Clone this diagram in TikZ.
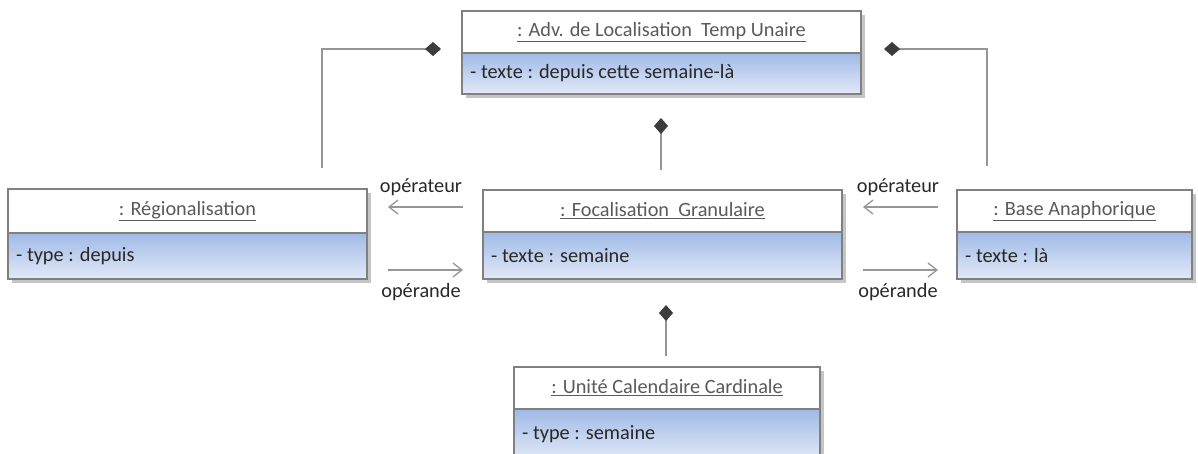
\documentclass[tikz,border=0pt]{standalone}
\usepackage{fontspec}
\setmainfont{Carlito}
\usetikzlibrary{arrows.meta,fit}
\definecolor{bordc}{RGB}{128,128,128}
\definecolor{linec}{RGB}{150,150,150}
\definecolor{diac}{RGB}{60,60,60}
\definecolor{titc}{RGB}{90,90,90}
\definecolor{txtc}{RGB}{40,40,40}
\definecolor{gtop}{RGB}{160,186,230}
\definecolor{gbot}{RGB}{226,233,248}
\definecolor{shadc}{RGB}{150,150,150}
\tikzset{
  objbox/.style={draw=bordc, line width=1.2pt, inner sep=0pt},
  titletext/.style={text=titc, font=\fontsize{20.3}{24}\selectfont, inner sep=0pt},
  attrtext/.style={text=txtc, font=\fontsize{20.3}{24}\selectfont, anchor=west, inner sep=0pt},
  role/.style={text=txtc, font=\fontsize{20.3}{24}\selectfont, inner sep=0pt},
  comp/.style={draw=linec, line width=1.3pt, -{Diamond[length=16pt,width=14pt,fill=diac,color=diac]}},
  navarrow/.style={draw=linec, line width=1.3pt, -{Straight Barb[length=9pt,width=14pt]}},
}
\newcommand\umlobj[8]{%
  \fill[shadc,opacity=0.55] (#2+4,#3+4) rectangle (#4+4,#6+4);
  \fill[white] (#2,#3) rectangle (#4,#5);
  \shade[top color=gtop,bottom color=gbot] (#2,#5) rectangle (#4,#6);
  \draw[bordc,line width=1.2pt] (#2,#5) -- (#4,#5);
  \node[objbox, fit={(#2,#3) (#4,#6)}] (#1) {};
  \node[titletext] (#1-t) at ({(#2+#4)/2},{(#3+#5)/2}) {\underline{#7}};
  \node[attrtext] (#1-a) at (#2+8,{(#5+#6)/2}) {#8};
}
\begin{document}
\begin{tikzpicture}[x=1pt,y=-1pt]
\useasboundingbox (0,0) rectangle (1198,453);
\umlobj{adv}{462}{11}{861}{53}{94}{: Adv. de Localisation\ \ Temp Unaire}{- texte : depuis cette semaine-là}
\umlobj{reg}{8}{189}{367}{233}{279}{: Régionalisation}{- type : depuis}
\umlobj{foc}{483}{190}{842}{232}{279}{: Focalisation\ \ Granulaire}{- texte : semaine}
\umlobj{base}{957}{190}{1192}{232}{279}{: Base Anaphorique}{- texte : là}
\umlobj{unit}{514}{367}{820}{409}{460}{: Unité Calendaire Cardinale}{- type : semaine}

% composition connectors
\coordinate (c1s) at (322,168);
\coordinate (c1e) at (441,49);
\draw[comp] (c1s) |- (c1e);
\coordinate (c2s) at (987,166);
\coordinate (c2e) at (884,49);
\draw[comp] (c2s) |- (c2e);
\coordinate (c3s) at (661,170);
\coordinate (c3e) at (661,118);
\draw[comp] (c3s) -- (c3e);
\coordinate (c4s) at (666,356);
\coordinate (c4e) at (666,305);
\draw[comp] (c4s) -- (c4e);

% role arrows
\coordinate (a1s) at (463,207); \coordinate (a1e) at (388,207);
\draw[navarrow] (a1s) -- (a1e);
\node[role] (r1) at (421,187) {opérateur};
\coordinate (a2s) at (388,270); \coordinate (a2e) at (463,270);
\draw[navarrow] (a2s) -- (a2e);
\node[role] (r2) at (421,292) {opérande};
\coordinate (a3s) at (938,207); \coordinate (a3e) at (863,207);
\draw[navarrow] (a3s) -- (a3e);
\node[role] (r3) at (898,187) {opérateur};
\coordinate (a4s) at (863,270); \coordinate (a4e) at (938,270);
\draw[navarrow] (a4s) -- (a4e);
\node[role] (r4) at (898,292) {opérande};
\end{tikzpicture}
\end{document}
